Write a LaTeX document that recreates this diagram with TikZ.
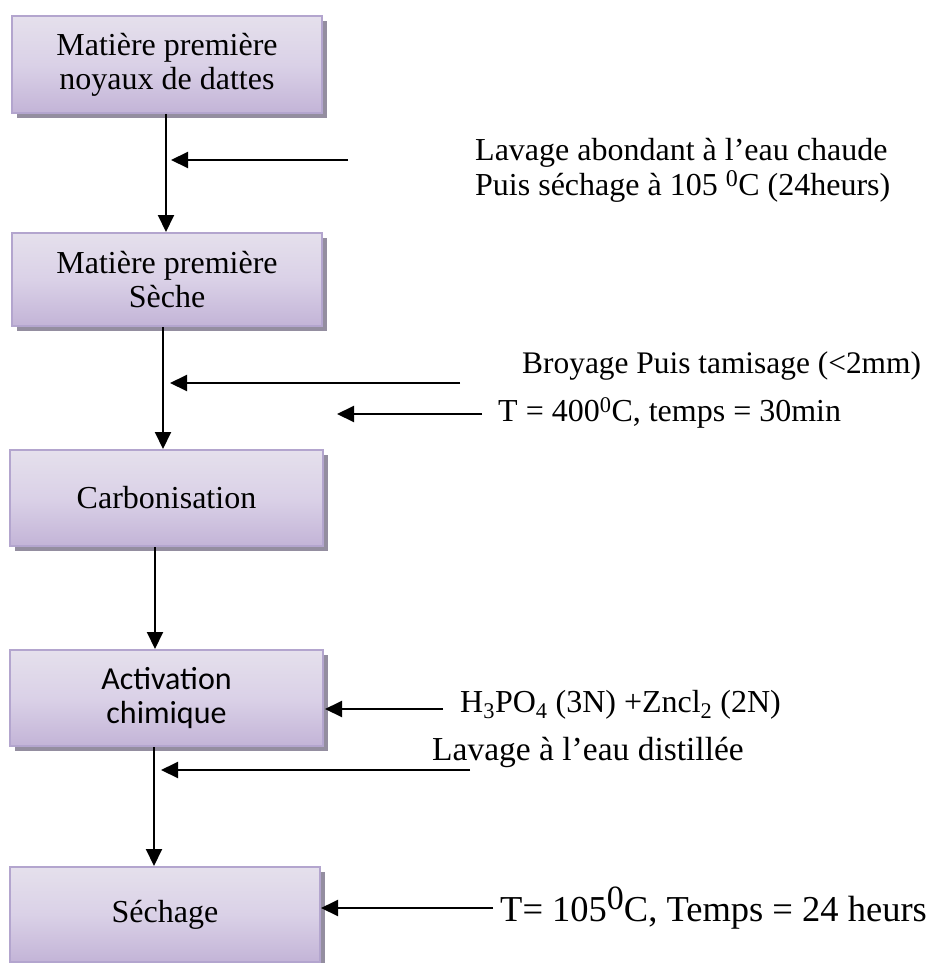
\documentclass[tikz,border=0pt]{standalone}
\usepackage{fontspec}
\setmainfont{Liberation Serif}
\newfontfamily\carlito{Carlito}
\usetikzlibrary{arrows.meta,shadows}
\definecolor{boxedge}{HTML}{B3A5CE}
\definecolor{boxtop}{HTML}{E5E0EC}
\definecolor{boxmid}{HTML}{DAD1E7}
\definecolor{boxbot}{HTML}{C3B4D7}
\definecolor{shadowgray}{HTML}{948EA0}
\tikzset{
  stepbox/.style={draw=boxedge, line width=2pt, top color=boxtop, bottom color=boxbot, middle color=boxmid,
    inner sep=0pt, align=center, minimum width=310pt,
    font=\fontsize{32}{34}\selectfont,
    drop shadow={shadow xshift=5pt, shadow yshift=-5pt, fill=shadowgray, opacity=1}},
  arr/.style={line width=2pt, -{Triangle[length=17pt,width=16pt]}},
  lbl/.style={anchor=west, inner sep=0pt, align=left, font=\fontsize{32}{35}\selectfont}
}
\begin{document}
\begin{tikzpicture}[x=1pt,y=-1pt]
\useasboundingbox (0,0) rectangle (939,963);
% boxes
\node[stepbox, minimum height=97pt] (b1) at (167,64.5) {Matière première\\noyaux de dattes};
\node[stepbox, minimum height=93pt] (b2) at (167,279.5) {Matière première\\Sèche};
\node[stepbox, minimum height=96pt, minimum width=313pt] (b3) at (166.5,498) {Carbonisation};
\node[stepbox, minimum height=96pt, minimum width=313pt] (b4) at (166.5,698) {{\carlito Activation}\\{\carlito chimique}};
\node[stepbox, minimum height=95pt] (b5) at (165,914.5) {Séchage};
% vertical guide coordinates
\coordinate (x1) at (166,0);
\coordinate (x2) at (163,0);
\coordinate (x3) at (155,0);
\coordinate (x4) at (154,0);
% vertical arrows
\draw[arr] (b1.south -| x1) -- (b2.north -| x1);
\draw[arr] (b2.south -| x2) -- (b3.north -| x2);
\draw[arr] (b3.south -| x3) -- (b4.north -| x3);
\draw[arr] (b4.south -| x4) -- (b5.north -| x4);
% horizontal arrows
\coordinate (h1s) at (348,160); \coordinate (h1e) at (171,160);
\coordinate (h2s) at (460,383); \coordinate (h2e) at (170,383);
\coordinate (h3s) at (482,414); \coordinate (h3e) at (337,414);
\coordinate (h4s) at (443,709); \coordinate (h4e) at (325,709);
\coordinate (h5s) at (470,770); \coordinate (h5e) at (161,770);
\coordinate (h6s) at (493,908); \coordinate (h6e) at (321,908);
\draw[arr] (h1s) -- (h1e);
\draw[arr] (h2s) -- (h2e);
\draw[arr] (h3s) -- (h3e);
\draw[arr] (h4s) -- (h4e);
\draw[arr] (h5s) -- (h5e);
\draw[arr] (h6s) -- (h6e);
% labels
\node[lbl] (t1) at (475,170) {Lavage abondant à l’eau chaude\\Puis séchage à 105 \textsuperscript{\fontsize{24}{24}\selectfont 0}C (24heurs)};
\node[lbl, font=\fontsize{31.4}{35}\selectfont] (t2) at (522,366) {Broyage Puis tamisage (<2mm)};
\node[lbl] (t3) at (498,413) {T = 400\textsuperscript{0}C, temps = 30min};
\node[lbl] (t4) at (460,705) {H\textsubscript{3}PO\textsubscript{4} (3N) +Zncl\textsubscript{2} (2N)};
\node[lbl, font=\fontsize{33.5}{35}\selectfont] (t5) at (432,752) {Lavage à l’eau distillée};
\node[lbl, font=\fontsize{36.5}{37}\selectfont] (t6) at (500,908) {T= 105\raisebox{12pt}{\fontsize{34}{34}\selectfont 0}C, Temps = 24 heurs};
\end{tikzpicture}
\end{document}
